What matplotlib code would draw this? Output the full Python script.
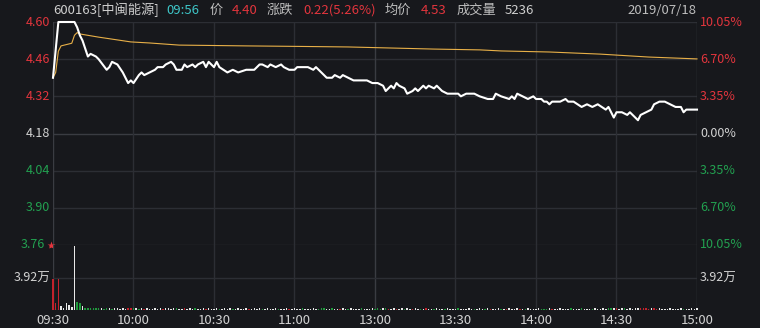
import numpy as np
import matplotlib
matplotlib.use("Agg")
import matplotlib.pyplot as plt
from matplotlib.transforms import blended_transform_factory

plt.rcParams['font.family'] = ['Noto Sans CJK SC', 'DejaVu Sans']

# ── data ────────────────────────────────────────────────────────────────────
price_levels = [4.60, 4.46, 4.32, 4.18, 4.04, 3.90, 3.76]
price_labels = ["4.60", "4.46", "4.32", "4.18", "4.04", "3.90", "3.76"]
pct_labels = ["10.05%", "6.70%", "3.35%", "0.00%", "3.35%", "6.70%", "10.05%"]
level_side = ["up", "up", "up", "flat", "down", "down", "down"]

time_ticks = [0, 30, 60, 90, 120, 150, 180, 210, 240]
time_labels = ["09:30", "10:00", "10:30", "11:00", "13:00",
               "13:30", "14:00", "14:30", "15:00"]

vol_ticks = [3.92]
vol_tick_labels = ["3.92万"]

# minute-of-session and price for the white price line
price_min = [0, 2, 8, 9, 10, 11, 12, 13, 14, 16, 17, 20, 21, 22, 24, 26, 28, 29, 30,
             32, 33, 34, 36, 38, 39, 41, 42, 44, 45, 46, 48, 49, 50, 52, 53, 54, 56,
             57, 58, 60, 61, 62, 65, 67, 69, 72, 75, 77, 78, 80, 81, 83, 85, 86, 88,
             90, 91, 95, 97, 98, 100, 102, 104, 105, 107, 108, 110, 112, 117, 119,
             121, 123, 124, 126, 127, 128, 129, 131, 132, 134, 135, 136, 138, 139,
             140, 142, 143, 145, 147, 151, 152, 154, 157, 159, 162, 164, 165, 167,
             170, 171, 172, 173, 175, 177, 179, 180, 182, 183, 184, 185, 186, 189,
             191, 192, 194, 197, 199, 201, 203, 206, 207, 209, 210, 212, 214, 215,
             216, 218, 219, 221, 223, 224, 226, 228, 230, 232, 234, 235, 236, 240]
price_val = [4.39, 4.60, 4.60, 4.58, 4.55, 4.53, 4.50, 4.47, 4.48, 4.47, 4.46, 4.42,
             4.43, 4.45, 4.44, 4.41, 4.37, 4.38, 4.37, 4.40, 4.41, 4.40, 4.41, 4.42,
             4.43, 4.43, 4.44, 4.45, 4.44, 4.42, 4.42, 4.44, 4.43, 4.44, 4.43, 4.44,
             4.45, 4.43, 4.45, 4.43, 4.45, 4.43, 4.41, 4.42, 4.41, 4.42, 4.42, 4.44,
             4.44, 4.43, 4.44, 4.43, 4.44, 4.43, 4.42, 4.42, 4.43, 4.43, 4.42, 4.43,
             4.41, 4.39, 4.39, 4.40, 4.39, 4.40, 4.39, 4.38, 4.38, 4.37, 4.37, 4.36,
             4.34, 4.36, 4.35, 4.37, 4.36, 4.35, 4.33, 4.34, 4.35, 4.34, 4.36, 4.35,
             4.36, 4.35, 4.36, 4.34, 4.33, 4.33, 4.32, 4.33, 4.33, 4.32, 4.31, 4.31,
             4.33, 4.32, 4.31, 4.32, 4.31, 4.33, 4.32, 4.31, 4.32, 4.31, 4.31, 4.30,
             4.30, 4.29, 4.30, 4.30, 4.31, 4.30, 4.30, 4.28, 4.29, 4.28, 4.29, 4.27,
             4.28, 4.24, 4.26, 4.26, 4.25, 4.26, 4.25, 4.23, 4.25, 4.26, 4.27, 4.29,
             4.30, 4.30, 4.29, 4.28, 4.28, 4.26, 4.27, 4.27]

# average price (yellow line)
avg_min = [0, 1, 2, 3, 7, 8, 9, 10, 17, 29, 36, 47, 72, 92, 110, 126, 142, 159,
           167, 185, 204, 222, 240]
avg_val = [4.390, 4.410, 4.490, 4.510, 4.520, 4.550, 4.560, 4.555, 4.543, 4.525,
           4.521, 4.513, 4.510, 4.508, 4.506, 4.502, 4.498, 4.495, 4.491, 4.487,
           4.479, 4.468, 4.461]

# per-minute volume (万) and direction r=up g=down w=flat
vol_val = [3.80, 0.90, 3.80, 0.45, 0.20, 0.90, 0.60, 0.40, 7.90, 1.00, 0.80,
           0.45, 0.30, 0.25, 0.30, 0.20, 0.25, 0.20, 0.30, 0.15, 0.20,
           0.20, 0.15, 0.25, 0.20, 0.15, 0.20, 0.15, 0.25, 0.20, 0.30,
           0.20, 0.15, 0.25, 0.15, 0.20, 0.15, 0.10, 0.20, 0.15, 0.30,
           0.15, 0.20, 0.25, 0.15, 0.20, 0.30, 0.15, 0.10, 0.20, 0.15,
           0.20, 0.15, 0.25, 0.15, 0.10, 0.20, 0.15, 0.20, 0.10, 0.15,
           0.20, 0.15, 0.10, 0.20, 0.15, 0.25, 0.10, 0.15, 0.20, 0.10,
           0.15, 0.20, 0.10, 0.15, 0.20, 0.10, 0.25, 0.15, 0.10, 0.20,
           0.15, 0.10, 0.20, 0.15, 0.10, 0.15, 0.20, 0.10, 0.15, 0.20,
           0.10, 0.15, 0.20, 0.10, 0.15, 0.10, 0.20, 0.15, 0.10, 0.20,
           0.25, 0.15, 0.10, 0.20, 0.15, 0.10, 0.15, 0.20, 0.10, 0.15,
           0.20, 0.10, 0.15, 0.10, 0.20, 0.15, 0.10, 0.15, 0.20, 0.10,
           0.20, 0.15, 0.25, 0.20, 0.15, 0.10, 0.20, 0.15, 0.10, 0.20,
           0.15, 0.20, 0.10, 0.15, 0.20, 0.10, 0.15, 0.10, 0.20, 0.15,
           0.10, 0.15, 0.20, 0.10, 0.15, 0.10, 0.20, 0.15, 0.10, 0.15,
           0.20, 0.10, 0.15, 0.10, 0.20, 0.15, 0.10, 0.15, 0.20, 0.10,
           0.15, 0.20, 0.10, 0.15, 0.10, 0.20, 0.15, 0.10, 0.15, 0.20,
           0.10, 0.15, 0.20, 0.10, 0.15, 0.10, 0.20, 0.15, 0.10, 0.15,
           0.20, 0.15, 0.10, 0.15, 0.20, 0.10, 0.15, 0.10, 0.20, 0.15,
           0.10, 0.15, 0.20, 0.10, 0.15, 0.10, 0.20, 0.15, 0.10, 0.15,
           0.15, 0.20, 0.10, 0.15, 0.20, 0.15, 0.25, 0.20, 0.30, 0.20,
           0.15, 0.20, 0.25, 0.15, 0.20, 0.15, 0.25, 0.30, 0.20, 0.25,
           0.20, 0.15, 0.25, 0.20, 0.15, 0.20, 0.15, 0.10, 0.15, 0.20,
           0.15, 0.10, 0.15, 0.20, 0.15, 0.10, 0.15, 0.20, 0.15, 0.30]
vol_dir = ("rrrwwwwwwggw" "ggggggwgg"
           "wgwwwwwrrg" "wgwrwwwwww" "rwwwwgwwrw" "wwgwwwrwww" "wgwwwwgwww"
           "wwrwwwwgww" "wwwgwwwrww" "wwgwwwwwgg" "gwwgwwrwwg" "wwwwgwwwwg"
           "ggwgrwwrww" "gwwrwwgwrw" "wgwwwgwwww" "gwwwwwgwww" "gwrwwwgwrw"
           "wwwrwgwwww" "wgggwrwwww" "wwgwwwgwww" "gwwwwwggwr" "wwgwwwwwrr"
           "rrwrrwwwww" "wwwwgwwwww")

# ── style ───────────────────────────────────────────────────────────────────
bg = "#17181c"
grid = "#2c2e34"
grid_hi = "#3a3c42"
red = "#e2353d"
green = "#22a050"
txt = "#d2d2d2"
bar_col = {"r": "#c4222c", "g": "#1f9a3c", "w": "#e8e8e8"}

W, H = 760, 328
fig = plt.figure(figsize=(W / 100, H / 100), dpi=100, facecolor=bg)

left, right = 53, 697
ax = fig.add_axes([left / W, (H - 245) / H, (right - left) / W, 223 / H])
axv = fig.add_axes([left / W, (H - 310) / H, (right - left) / W, 65 / H])

for a in (ax, axv):
    a.set_facecolor(bg)
    for s in a.spines.values():
        s.set_visible(False)
    a.set_xticks([])
    a.set_yticks([])
    a.set_xlim(0, 240)

ax.set_ylim(price_levels[-1], price_levels[0])
axv.set_ylim(0, vol_ticks[0] * 65 / 32)

# grid lines
for lv in price_levels:
    ax.axhline(lv, color=grid_hi if lv == 4.18 else grid, lw=1, zorder=1)
for a in (ax, axv):
    for t in time_ticks:
        a.axvline(t, color=grid_hi if t in (0, 120, 240) else grid, lw=1, zorder=1)
axv.axhline(vol_ticks[0], color=grid, lw=1, zorder=1)
axv.axhline(0, color=grid_hi, lw=1, zorder=1)

# price + average lines
ax.plot(avg_min, avg_val, color="#e8b048", lw=0.8, zorder=3, clip_on=False)
ax.plot(price_min, price_val, color="white", lw=1.5, zorder=4, clip_on=False)

# volume bars
minutes = np.arange(len(vol_val))
axv.bar(minutes, vol_val, width=0.55, color=[bar_col[d] for d in vol_dir],
        linewidth=0, zorder=3, clip_on=False)

# axis labels
ytr = blended_transform_factory(ax.transAxes, ax.transData)
dx = 3 / (right - left)
for lv, lab, pct, side in zip(price_levels, price_labels, pct_labels, level_side):
    col = red if side == "up" else (green if side == "down" else txt)
    xo = -dx - (5 / (right - left) if lab == "3.76" else 0)
    ax.text(xo, lv, lab, transform=ytr, ha="right", va="center",
            color=col, fontsize=9)
    ax.text(1 + dx, lv, pct, transform=ytr, ha="left", va="center",
            color=col, fontsize=9)
ax.plot([-0.9], [price_levels[-1]], marker="*", color=red, ms=6,
        clip_on=False, zorder=5, mec="none")

vtr = blended_transform_factory(axv.transAxes, axv.transData)
for v, lab in zip(vol_ticks, vol_tick_labels):
    axv.text(-dx, v, lab, transform=vtr, ha="right", va="center",
             color=txt, fontsize=9)
    axv.text(1 + dx, v, lab, transform=vtr, ha="left", va="center",
             color=txt, fontsize=9)

xtr = blended_transform_factory(axv.transData, fig.transFigure)
for t, lab in zip(time_ticks, time_labels):
    axv.text(t, 1 - 320 / H, lab, transform=xtr, ha="center", va="center",
             color=txt, fontsize=9.5)

# header
header = [
    (53, "600163[中闽能源]", "#cfcfcf"),
    (166, "09:56", "#3ec6c8"),
    (210, "价", "#bdbdbd"),
    (232, "4.40", red),
    (267, "涨跌", "#bdbdbd"),
    (303, "0.22(5.26%)", red),
    (385, "均价", "#bdbdbd"),
    (421, "4.53", red),
    (457, "成交量", "#bdbdbd"),
    (505, "5236", "#cfcfcf"),
]
for x, s, c in header:
    fig.text(x / W, 1 - 10 / H, s, color=c, fontsize=9.5, ha="left", va="center")
fig.text(696 / W, 1 - 10 / H, "2019/07/18", color="#bdbdbd", fontsize=9.5,
         ha="right", va="center")

fig.savefig("out.png", dpi=100, facecolor=bg)
